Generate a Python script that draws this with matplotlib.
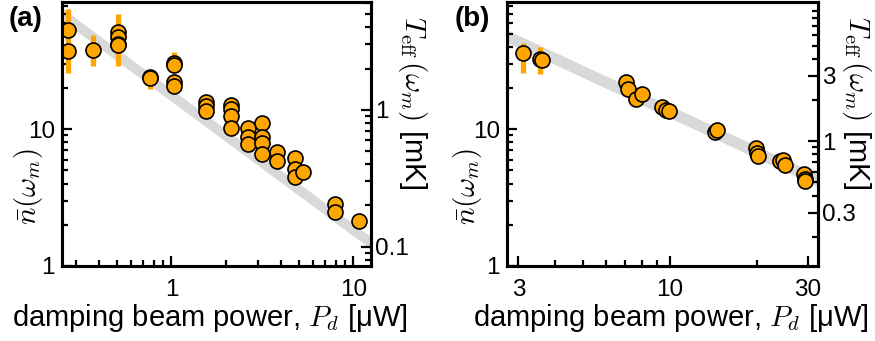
import numpy as np
import matplotlib
matplotlib.use("Agg")
import matplotlib.pyplot as plt
from matplotlib.ticker import FixedLocator, FixedFormatter, LogLocator, NullFormatter

plt.rcParams['font.family'] = ['Liberation Sans', 'DejaVu Sans']
plt.rcParams['mathtext.fontset'] = 'cm'

# panel (a) data: damping power [uW] vs mean occupation
power_a = [0.271, 0.271, 0.368, 0.505, 0.505, 0.505, 0.505, 0.762, 0.765,
           1.035, 1.035, 1.035, 1.035, 1.55, 1.55, 1.55, 2.12, 2.12, 2.12, 2.12,
           2.62, 2.62, 2.62, 3.15, 3.15, 3.15, 3.15, 3.79, 3.79, 4.78, 4.78, 4.78,
           5.31, 7.95, 7.95, 10.7]
nbar_a = [52.7, 37.2, 38.2, 51.3, 47.0, 42.1, 41.0, 24.2, 23.6,
          30.2, 29.5, 22.3, 20.8, 15.8, 14.7, 13.5, 14.9, 14.1, 12.4, 10.2,
          10.2, 8.75, 7.75, 11.1, 8.8, 7.95, 6.6, 6.77, 5.9, 6.2, 5.1, 4.45,
          4.9, 2.85, 2.48, 2.15]
# error bars (a): x, low, high
err_x_a = [0.271, 0.368, 0.505, 0.762, 1.035]
err_lo_a = [25.8, 29.1, 29.0, 19.8, 27.9]
err_hi_a = [75.0, 48.6, 69.0, 26.0, 36.6]
# fit band (a): n = A * P^b
fit_a = (17.7, -0.984)

# panel (b) data
power_b = [3.12, 3.56, 3.63, 7.04, 7.17, 7.67, 8.0, 9.43, 9.73, 9.93,
           14.3, 14.6, 19.9, 20.0, 20.2, 24.1, 24.6, 24.9, 29.0, 29.3, 29.3]
nbar_b = [35.8, 32.8, 32.1, 22.0, 19.7, 16.7, 18.2, 14.6, 13.8, 13.6,
          9.47, 9.9, 7.3, 6.73, 6.37, 5.86, 5.93, 5.48, 4.7, 4.33, 4.2]
err_x_b = [3.12, 3.56]
err_lo_b = [25.6, 25.3]
err_hi_b = [42.7, 39.6]
fit_b = (129.0, -0.983)

# n -> T_eff [mK] conversion for each mode
t_per_n_a = 0.0721
t_per_n_b = 0.1225

orange = '#FFA500'
band_gray = '#D9D9D9'
fs_tick = 17.5
fs_label = 21


def style_axis(ax):
    for sp in ax.spines.values():
        sp.set_linewidth(2.2)
    ax.tick_params(which='both', direction='in', width=1.6, labelsize=fs_tick,
                   top=False)
    ax.tick_params(which='major', length=7)
    ax.tick_params(which='minor', length=4)


def draw_panel(ax, xs, ys, ex, elo, ehi, fit, xlim, ylim, t_fac):
    px = np.logspace(np.log10(xlim[0]), np.log10(xlim[1]), 50)
    ny = fit[0] * px ** fit[1]
    ax.fill_between(px, ny / 10 ** 0.045, ny * 10 ** 0.045, color=band_gray,
                    lw=0, zorder=1)
    ax.vlines(ex, elo, ehi, color=orange, lw=3.8, zorder=2)
    ax.plot(xs, ys, 'o', ms=10.8, mfc=orange, mec='black', mew=1.2, zorder=3)
    ax.set_xscale('log')
    ax.set_yscale('log')
    ax.set_xlim(*xlim)
    ax.set_ylim(*ylim)
    ax.yaxis.set_major_locator(FixedLocator([1, 10]))
    ax.yaxis.set_major_formatter(FixedFormatter(['1', '10']))
    ax.yaxis.set_minor_locator(LogLocator(subs=np.arange(2, 10)))
    ax.yaxis.set_minor_formatter(NullFormatter())
    style_axis(ax)
    ax.tick_params(axis='x', which='both', pad=9)
    ax.tick_params(axis='y', which='both', pad=5)
    axr = ax.twinx()
    axr.set_yscale('log')
    axr.set_ylim(ylim[0] * t_fac, ylim[1] * t_fac)
    axr.yaxis.set_minor_locator(LogLocator(subs=np.arange(2, 10)))
    axr.yaxis.set_minor_formatter(NullFormatter())
    style_axis(axr)
    axr.tick_params(axis='y', which='both', pad=3)
    return axr


fig = plt.figure(figsize=(8.75, 3.41), dpi=100)

# (a)
ax_a = fig.add_axes([62 / 875, 75 / 341, 309 / 875, 264 / 341])
axr_a = draw_panel(ax_a, power_a, nbar_a, err_x_a, err_lo_a, err_hi_a, fit_a,
                   (0.25, 12.5), (1, 85), t_per_n_a)
ax_a.xaxis.set_major_locator(FixedLocator([1, 10]))
ax_a.xaxis.set_major_formatter(FixedFormatter(['1', '10']))
ax_a.xaxis.set_minor_locator(LogLocator(subs=np.arange(2, 10)))
ax_a.xaxis.set_minor_formatter(NullFormatter())
axr_a.yaxis.set_major_locator(FixedLocator([0.1, 1]))
axr_a.yaxis.set_major_formatter(FixedFormatter(['0.1', '1']))

# (b)
ax_b = fig.add_axes([507 / 875, 75 / 341, 311 / 875, 264 / 341])
axr_b = draw_panel(ax_b, power_b, nbar_b, err_x_b, err_lo_b, err_hi_b, fit_b,
                   (2.74, 32.5), (1, 85), t_per_n_b)
ax_b.xaxis.set_major_locator(FixedLocator([3, 10, 30]))
ax_b.xaxis.set_major_formatter(FixedFormatter(['3', '10', '30']))
ax_b.xaxis.set_minor_locator(FixedLocator([4, 5, 6, 7, 8, 9, 20]))
ax_b.xaxis.set_minor_formatter(NullFormatter())
axr_b.yaxis.set_major_locator(FixedLocator([0.3, 1, 3]))
axr_b.yaxis.set_major_formatter(FixedFormatter(['0.3', '1', '3']))

xlab = r'damping beam power, $P_d$ [μW]'
for ax, axr, xc, xl, xr in [(ax_a, axr_a, 0.479, -0.11, 1.135),
                            (ax_b, axr_b, 0.527, -0.128, 1.125)]:
    ax.text(xc, -0.135, xlab, transform=ax.transAxes, ha='center', va='top',
            fontsize=fs_label)
    ax.text(xl, 0.30, r'$\bar{n}(\omega_m)$', transform=ax.transAxes,
            rotation=90, ha='center', va='center', fontsize=fs_label)
    ax.text(xr, 0.62, r'$T_{\mathrm{eff}}\,(\omega_m)$ [mK]',
            transform=ax.transAxes, rotation=270, ha='center', va='center',
            fontsize=fs_label)

fig.text(9 / 875, 1 - 19 / 341, '(a)', fontsize=20, fontweight='bold',
         ha='left', va='center')
fig.text(455 / 875, 1 - 19 / 341, '(b)', fontsize=20, fontweight='bold',
         ha='left', va='center')

fig.savefig('out.png', dpi=100)
